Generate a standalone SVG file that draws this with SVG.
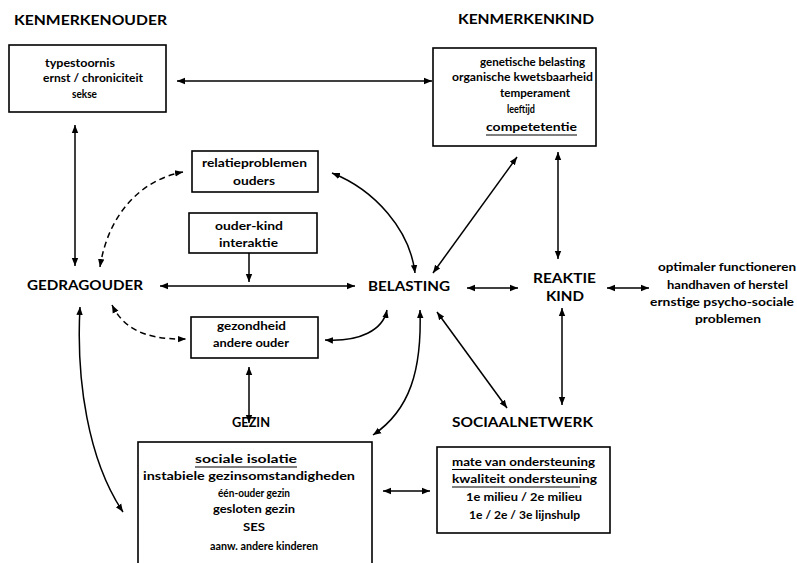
<svg xmlns="http://www.w3.org/2000/svg" width="797" height="563" viewBox="0 0 797 563">
<defs>
<marker id="a" viewBox="0 0 10 10" refX="10" refY="5" markerWidth="8" markerHeight="8" markerUnits="userSpaceOnUse" orient="auto-start-reverse"><path d="M0,1 L10,5 L0,9 z" fill="#000"/></marker>
<style>
text{font-family:Lato,"Liberation Sans",sans-serif;font-weight:700;fill:#000;font-size:12px}
.h{font-size:13px}
.box{fill:#fff;stroke:#000;stroke-width:1.6}
.c{fill:none;stroke:#000;stroke-width:1.5;marker-start:url(#a);marker-end:url(#a)}
.s{fill:none;stroke:#000;stroke-width:1.5;marker-end:url(#a)}
.d{stroke-dasharray:6 4}
.u{stroke:#000;stroke-width:1.2}
</style>
</defs>
<rect width="797" height="563" fill="#fff"/>
<g id="title-ouder"><text class="h" x="14" y="25" textLength="153" lengthAdjust="spacingAndGlyphs">KENMERKENOUDER</text></g>
<g id="title-kind"><text class="h" x="458" y="24" textLength="136" lengthAdjust="spacingAndGlyphs">KENMERKENKIND</text></g>
<g id="kenmerken-ouder">
<rect class="box" x="9" y="45" width="157" height="67"/>
<text x="45" y="67" textLength="70" lengthAdjust="spacingAndGlyphs">typestoornis</text>
<text x="43" y="82" textLength="100" lengthAdjust="spacingAndGlyphs">ernst / chroniciteit</text>
<text x="72" y="98" textLength="25" lengthAdjust="spacingAndGlyphs">sekse</text>
</g>
<g id="kenmerken-kind">
<rect class="box" x="433" y="48" width="163" height="98"/>
<text x="480" y="66" textLength="105" lengthAdjust="spacingAndGlyphs">genetische belasting</text>
<text x="452" y="81" textLength="141" lengthAdjust="spacingAndGlyphs">organische kwetsbaarheid</text>
<text x="500" y="97" textLength="70" lengthAdjust="spacingAndGlyphs">temperament</text>
<text x="507" y="113" textLength="28" lengthAdjust="spacingAndGlyphs">leeftijd</text>
<text x="486" y="131" textLength="91" lengthAdjust="spacingAndGlyphs">competetentie</text>
<line class="u" x1="486" y1="135" x2="577" y2="135"/>
</g>
<g id="relatieproblemen">
<rect class="box" x="192" y="151" width="126" height="41"/>
<text x="202" y="167" textLength="105" lengthAdjust="spacingAndGlyphs">relatieproblemen</text>
<text x="233" y="185" textLength="42" lengthAdjust="spacingAndGlyphs">ouders</text>
</g>
<g id="ouder-kind">
<rect class="box" x="189" y="213" width="128" height="40"/>
<text x="215" y="230" textLength="68" lengthAdjust="spacingAndGlyphs">ouder-kind</text>
<text x="219" y="247" textLength="59" lengthAdjust="spacingAndGlyphs">interaktie</text>
</g>
<g id="gezondheid">
<rect class="box" x="191" y="317" width="127" height="41"/>
<text x="217" y="330" textLength="69" lengthAdjust="spacingAndGlyphs">gezondheid</text>
<text x="213" y="347" textLength="76" lengthAdjust="spacingAndGlyphs">andere ouder</text>
</g>
<g id="gedrag-ouder"><text class="h" x="27" y="290" textLength="116" lengthAdjust="spacingAndGlyphs">GEDRAGOUDER</text></g>
<g id="belasting"><text class="h" x="368" y="291" textLength="82" lengthAdjust="spacingAndGlyphs">BELASTING</text></g>
<g id="reaktie-kind">
<text class="h" x="533" y="283" textLength="63" lengthAdjust="spacingAndGlyphs">REAKTIE</text>
<text class="h" x="546" y="301" textLength="38" lengthAdjust="spacingAndGlyphs">KIND</text>
</g>
<g id="uitkomsten">
<text x="658" y="271" textLength="138" lengthAdjust="spacingAndGlyphs">optimaler functioneren</text>
<text x="667" y="289" textLength="121" lengthAdjust="spacingAndGlyphs">handhaven of herstel</text>
<text x="650" y="306" textLength="144" lengthAdjust="spacingAndGlyphs">ernstige psycho-sociale</text>
<text x="695" y="323" textLength="66" lengthAdjust="spacingAndGlyphs">problemen</text>
</g>
<g id="gezin-label"><text class="h" x="232" y="427" textLength="38" lengthAdjust="spacingAndGlyphs">GEZIN</text></g>
<g id="sociaal-label"><text class="h" x="452" y="427" textLength="141" lengthAdjust="spacingAndGlyphs">SOCIAALNETWERK</text></g>
<g id="gezin">
<rect class="box" x="138" y="442" width="234" height="140"/>
<text x="195" y="463" textLength="102" lengthAdjust="spacingAndGlyphs">sociale isolatie</text>
<line class="u" x1="195" y1="467" x2="297" y2="467"/>
<text x="143" y="480" textLength="212" lengthAdjust="spacingAndGlyphs">instabiele gezinsomstandigheden</text>
<text x="218" y="497" textLength="72" lengthAdjust="spacingAndGlyphs">één-ouder gezin</text>
<text x="213" y="513" textLength="82" lengthAdjust="spacingAndGlyphs">gesloten gezin</text>
<text x="243" y="531" textLength="22" lengthAdjust="spacingAndGlyphs">SES</text>
<text x="210" y="550" textLength="108" lengthAdjust="spacingAndGlyphs">aanw. andere kinderen</text>
</g>
<g id="sociaal-netwerk">
<rect class="box" x="437" y="447" width="173" height="86"/>
<text x="452" y="466" textLength="143" lengthAdjust="spacingAndGlyphs">mate van ondersteuning</text>
<line class="u" x1="452" y1="469.5" x2="587" y2="469.5"/>
<text x="452" y="483" textLength="145" lengthAdjust="spacingAndGlyphs">kwaliteit ondersteuning</text>
<line class="u" x1="452" y1="487" x2="580" y2="487"/>
<text x="466" y="501" textLength="116" lengthAdjust="spacingAndGlyphs">1e milieu / 2e milieu</text>
<text x="469" y="519" textLength="111" lengthAdjust="spacingAndGlyphs">1e / 2e / 3e lijnshulp</text>
</g>
<g id="connectors">
<line class="c" x1="177" y1="81" x2="432" y2="81"/>
<line class="c" x1="75" y1="125" x2="75" y2="266"/>
<line class="c" x1="558" y1="152" x2="558" y2="259"/>
<line class="c" x1="433" y1="273" x2="517" y2="157"/>
<line class="c" x1="160" y1="286" x2="355" y2="286"/>
<line class="s" x1="249" y1="253" x2="249" y2="282"/>
<path class="c d" d="M100,267 C108,215 140,180 183,172"/>
<path class="c d" d="M112,305 C122,325 140,340 186,339"/>
<path class="c" d="M332,173 C375,190 410,230 415,273"/>
<path class="c" d="M325,340 C360,342 383,330 387,310"/>
<line class="c" x1="249" y1="367" x2="249" y2="423"/>
<path class="c" d="M80,307 C76,380 88,460 123,512"/>
<path class="c" d="M420,310 C422,370 410,410 373,435"/>
<line class="c" x1="437" y1="312" x2="507" y2="408"/>
<line class="c" x1="467" y1="288" x2="518" y2="288"/>
<line class="c" x1="607" y1="288" x2="649" y2="288"/>
<line class="c" x1="562" y1="308" x2="562" y2="405"/>
<line class="c" x1="383" y1="491" x2="430" y2="491"/>
</g>
</svg>
